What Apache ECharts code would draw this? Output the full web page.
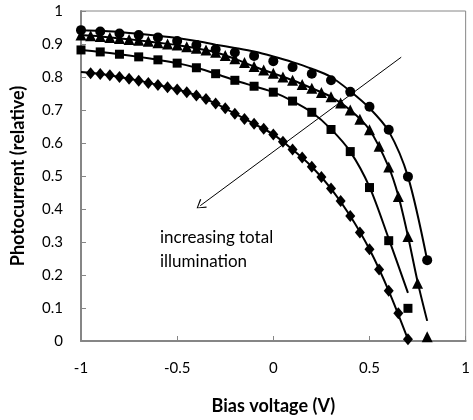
<!DOCTYPE html>
<html>
<head>
<meta charset="utf-8">
<script src="https://cdn.jsdelivr.net/npm/echarts@6/dist/echarts.min.js"></script>
<style>
  html, body { margin: 0; padding: 0; background: #fff; }
  #chart { width: 473px; height: 420px; }
</style>
</head>
<body>
<div id="chart"></div>
<script>
// measured points (x = bias voltage, y = relative photocurrent)
var circleX = [-1, -0.9, -0.8, -0.7, -0.6, -0.5, -0.4, -0.3, -0.2, -0.1, 0, 0.1, 0.2, 0.3, 0.4, 0.5, 0.6, 0.7, 0.8];
var circleY = [0.942, 0.938, 0.932, 0.927, 0.92, 0.909, 0.897, 0.884, 0.874, 0.864, 0.848, 0.83, 0.81, 0.79, 0.755, 0.71, 0.64, 0.498, 0.245];

var triangleX = [-1, -0.95, -0.9, -0.85, -0.8, -0.75, -0.7, -0.65, -0.6, -0.55, -0.5, -0.45, -0.4, -0.35,
  -0.3, -0.25, -0.2, -0.15, -0.1, -0.05, 0, 0.05, 0.1, 0.15, 0.2, 0.25, 0.3, 0.35, 0.4, 0.45, 0.5, 0.55,
  0.6, 0.65, 0.7, 0.75, 0.8];
var triangleY = [0.927, 0.925, 0.923, 0.92, 0.917, 0.914, 0.911, 0.908, 0.904, 0.9, 0.897, 0.892, 0.887, 0.882,
  0.875, 0.865, 0.855, 0.844, 0.832, 0.821, 0.811, 0.8, 0.79, 0.777, 0.766, 0.753, 0.74, 0.721, 0.7, 0.672, 0.64, 0.59,
  0.527, 0.438, 0.317, 0.175, 0.013];

var squareX = [-1, -0.9, -0.8, -0.7, -0.6, -0.5, -0.4, -0.3, -0.2, -0.1, 0, 0.1, 0.2, 0.3, 0.4, 0.5, 0.6, 0.7];
var squareY = [0.882, 0.876, 0.869, 0.861, 0.852, 0.842, 0.828, 0.81, 0.79, 0.772, 0.754, 0.727, 0.693, 0.641, 0.574, 0.465, 0.304, 0.099];

var diamondX = [-0.95, -0.9, -0.85, -0.8, -0.75, -0.7, -0.65, -0.6, -0.55, -0.5, -0.45, -0.4, -0.35, -0.3,
  -0.25, -0.2, -0.15, -0.1, -0.05, 0, 0.05, 0.1, 0.15, 0.2, 0.25, 0.3, 0.35, 0.4, 0.45, 0.5, 0.55, 0.6, 0.65, 0.7];
var diamondY = [0.811, 0.809, 0.805, 0.8, 0.795, 0.789, 0.782, 0.776, 0.769, 0.762, 0.754, 0.744, 0.733, 0.72,
  0.705, 0.689, 0.673, 0.658, 0.643, 0.626, 0.604, 0.58, 0.556, 0.528, 0.497, 0.462, 0.424, 0.379, 0.329, 0.278,
  0.217, 0.152, 0.084, 0.005];

// fitted curves
var fitCircleX = [-1, -0.9, -0.8, -0.7, -0.6, -0.5, -0.4, -0.3, -0.2, -0.1, 0, 0.1, 0.2, 0.3, 0.4, 0.5, 0.6, 0.7, 0.8];
var fitCircleY = [0.942, 0.94, 0.936, 0.931, 0.925, 0.918, 0.909, 0.898, 0.888, 0.877, 0.862, 0.845, 0.825, 0.8, 0.757, 0.706, 0.636, 0.498, 0.245];

var fitTriangleX = [-1, -0.9, -0.8, -0.7, -0.6, -0.5, -0.4, -0.3, -0.2, -0.1, 0, 0.1, 0.2, 0.3, 0.4, 0.5, 0.6, 0.65, 0.7, 0.75, 0.8];
var fitTriangleY = [0.927, 0.923, 0.917, 0.911, 0.904, 0.897, 0.887, 0.875, 0.855, 0.832, 0.811, 0.79, 0.766, 0.74, 0.7, 0.64, 0.527, 0.44, 0.318, 0.18, 0.061];

var fitSquareX = [-1, -0.9, -0.8, -0.7, -0.6, -0.5, -0.4, -0.3, -0.2, -0.1, 0, 0.1, 0.2, 0.3, 0.4, 0.5, 0.6, 0.7];
var fitSquareY = [0.882, 0.876, 0.869, 0.861, 0.852, 0.842, 0.828, 0.81, 0.79, 0.772, 0.754, 0.727, 0.693, 0.642, 0.574, 0.467, 0.31, 0.146];

var fitDiamondX = [-1, -0.9, -0.8, -0.7, -0.6, -0.5, -0.4, -0.3, -0.2, -0.1, 0, 0.1, 0.2, 0.3, 0.4, 0.5, 0.6, 0.7];
var fitDiamondY = [0.815, 0.809, 0.8, 0.789, 0.776, 0.762, 0.744, 0.72, 0.689, 0.658, 0.626, 0.58, 0.528, 0.462, 0.379, 0.278, 0.152, 0.005];

var xTicks = { min: -1, max: 1, interval: 0.5 };
var yTicks = { min: 0, max: 1, interval: 0.1 };

function pairs(xs, ys) {
  return xs.map(function (x, i) { return [x, ys[i]]; });
}

var chart = echarts.init(document.getElementById('chart'));
var axisGray = '#868686';
var font = 'Lato';

function fitSeries(xs, ys) {
  return {
    type: 'line',
    data: pairs(xs, ys),
    smooth: 0.3,
    showSymbol: false,
    symbol: 'none',
    lineStyle: { color: '#000', width: 2 },
    z: 2,
    silent: true
  };
}

function pointSeries(xs, ys, symbol, size) {
  return {
    type: 'scatter',
    data: pairs(xs, ys),
    symbol: symbol,
    symbolSize: size,
    itemStyle: { color: '#000', opacity: 1 },
    z: 3,
    silent: true
  };
}

var arrowSeries = fitSeries([], []);
arrowSeries.markLine = {
  silent: true,
  animation: false,
  symbol: ['none', 'path://M0,10 L5,0 L10,10 L9,10.8 L5,2 L1,10.8 Z'],
  symbolSize: [11, 9],
  label: { show: false },
  lineStyle: { color: '#000', width: 1, type: 'solid' },
  data: [[{ coord: [0.665, 0.86] }, { coord: [-0.38, 0.41] }]]
};

var option = {
  animation: false,
  backgroundColor: '#fff',
  grid: {
    left: 81, right: 4, top: 11, bottom: 79,
    show: true, borderColor: axisGray, borderWidth: 1
  },
  xAxis: {
    type: 'value',
    min: xTicks.min, max: xTicks.max, interval: xTicks.interval,
    name: 'Bias voltage (V)',
    nameLocation: 'middle',
    nameGap: 56,
    nameTextStyle: { fontFamily: font, fontWeight: 'bold', fontSize: 18, color: '#000' },
    axisLine: { onZero: false, lineStyle: { color: axisGray, width: 2 } },
    axisTick: { inside: true, length: 5, lineStyle: { color: axisGray } },
    axisLabel: { margin: 20, fontFamily: font, fontSize: 15, color: '#000' },
    splitLine: { show: false }
  },
  yAxis: {
    type: 'value',
    min: yTicks.min, max: yTicks.max, interval: yTicks.interval,
    name: 'Photocurrent (relative)',
    nameLocation: 'middle',
    nameGap: 54,
    nameTextStyle: { fontFamily: font, fontWeight: 'bold', fontSize: 18, color: '#000' },
    axisLine: { onZero: false, lineStyle: { color: axisGray, width: 2 } },
    axisTick: { inside: true, length: 5, lineStyle: { color: axisGray } },
    axisLabel: { margin: 18, fontFamily: font, fontSize: 15, color: '#000' },
    splitLine: { show: false }
  },
  graphic: [{
    type: 'text',
    left: 160,
    top: 226,
    style: {
      text: 'increasing total\nillumination',
      font: '17px Lato',
      fill: '#000',
      lineHeight: 24
    }
  }],
  series: [
    fitSeries(fitCircleX, fitCircleY),
    fitSeries(fitTriangleX, fitTriangleY),
    fitSeries(fitSquareX, fitSquareY),
    fitSeries(fitDiamondX, fitDiamondY),
    pointSeries(circleX, circleY, 'circle', 10),
    pointSeries(triangleX, triangleY, 'triangle', 11),
    pointSeries(squareX, squareY, 'rect', 9),
    pointSeries(diamondX, diamondY, 'diamond', [10, 12]),
    arrowSeries
  ]
};

chart.setOption(option);
</script>
</body>
</html>
